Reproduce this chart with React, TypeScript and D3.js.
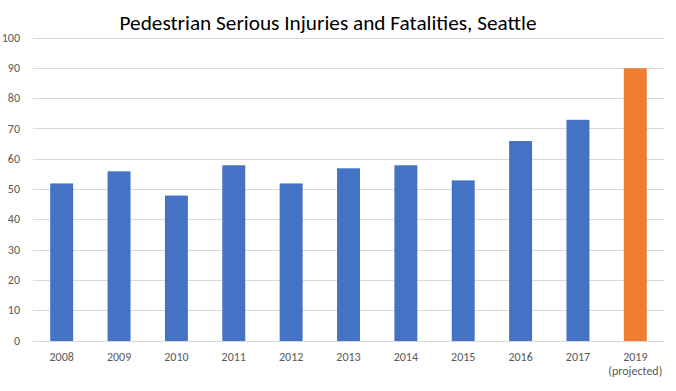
import * as React from "react";
import * as d3 from "d3";

const categories = ["2008", "2009", "2010", "2011", "2012", "2013", "2014", "2015", "2016", "2017", "2019"];
const subLabels = ["", "", "", "", "", "", "", "", "", "", "(projected)"];
const values = [52, 56, 48, 58, 52, 57, 58, 53, 66, 73, 90];
const projected = [false, false, false, false, false, false, false, false, false, false, true];
const yTicks = [0, 10, 20, 30, 40, 50, 60, 70, 80, 90, 100];

const TITLE = "Pedestrian Serious Injuries and Fatalities, Seattle";

export default function App() {
  const width = 676;
  const height = 391;
  const margin = { top: 38, right: 12, bottom: 50, left: 33 };
  const iw = width - margin.left - margin.right;
  const ih = height - margin.top - margin.bottom;

  const x = d3.scaleBand<string>().domain(categories).range([0, iw]).paddingInner(0.6).paddingOuter(0.3);
  const y = d3.scaleLinear().domain([0, 100]).range([ih, 0]);

  const font = "Calibri, Carlito, 'Open Sans', sans-serif";
  const labelColor = "#595959";

  return (
    <svg
      width={width}
      height={height}
      style={{ position: "absolute", left: 0, top: 0, background: "#fff" }}
      fontFamily={font}
    >
      <rect width={width} height={height} fill="#fff" />
      <text
        x={328}
        y={30}
        textAnchor="middle"
        fontSize={21}
        fill="#000"
        textLength={417}
        lengthAdjust="spacingAndGlyphs"
      >
        {TITLE}
      </text>
      <g transform={`translate(${margin.left},${margin.top})`}>
        {yTicks.map((t) => (
          <g key={t} transform={`translate(0,${y(t)})`}>
            <line x1={0} x2={iw} stroke="#D9D9D9" strokeWidth={1} shapeRendering="crispEdges" />
            <text x={-13} dy="0.3em" textAnchor="end" fontSize={12} fill={labelColor}>
              {t}
            </text>
          </g>
        ))}
        {categories.map((c, i) => (
          <rect
            key={c}
            x={x(c)}
            y={y(values[i])}
            width={x.bandwidth()}
            height={ih - y(values[i])}
            fill={projected[i] ? "#ED7D31" : "#4472C4"}
          />
        ))}
        {categories.map((c, i) => (
          <g key={c} transform={`translate(${(x(c) ?? 0) + x.bandwidth() / 2},${ih})`}>
            <text y={20} textAnchor="middle" fontSize={12} fill={labelColor}>
              {c}
            </text>
            {subLabels[i] && (
              <text y={34} textAnchor="middle" fontSize={12} fill={labelColor}>
                {subLabels[i]}
              </text>
            )}
          </g>
        ))}
      </g>
    </svg>
  );
}
